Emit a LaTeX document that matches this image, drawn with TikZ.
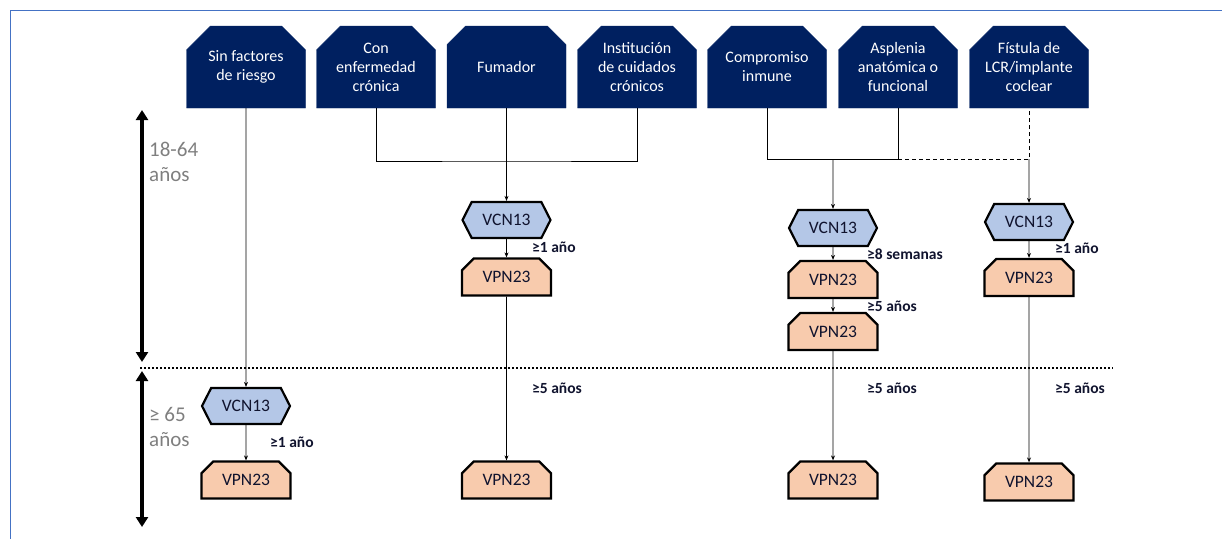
\documentclass[tikz,border=0pt]{standalone}
\usepackage{fontspec}
\setmainfont{Carlito}
\usetikzlibrary{shapes.misc,shapes.symbols,arrows.meta,positioning,calc}
\definecolor{navybox}{HTML}{002060}
\definecolor{vcnblue}{HTML}{B4C7E7}
\definecolor{vpnpeach}{HTML}{F8CBAD}
\definecolor{frameblue}{HTML}{4472C4}
\definecolor{agegray}{HTML}{7F7F7F}
\definecolor{inkdark}{HTML}{10132E}

\begin{document}
\begin{tikzpicture}[x=1pt,y=-1pt,
    group/.style={chamfered rectangle,chamfered rectangle corners={north west,north east},
      chamfered rectangle xsep=12pt,chamfered rectangle ysep=12pt,fill=navybox,draw=navybox,
      text=white,minimum width=119pt,minimum height=82pt,inner sep=1pt,align=center,
      font=\fontsize{16}{19}\selectfont},
    vcn/.style={signal,signal to=west and east,signal pointer angle=126,fill=vcnblue,
      draw=black,line width=2.2pt,minimum width=88pt,minimum height=36pt,inner sep=0pt,
      text=inkdark,font=\fontsize{17.5}{20}\selectfont},
    vpn/.style={chamfered rectangle,chamfered rectangle corners={north west,north east},
      chamfered rectangle xsep=6pt,chamfered rectangle ysep=6pt,fill=vpnpeach,draw=black,
      line width=2.2pt,minimum width=89pt,minimum height=37pt,inner sep=0pt,
      text=inkdark,font=\fontsize{17.5}{20}\selectfont},
    gap/.style={anchor=west,inner sep=0pt,text=inkdark,font=\bfseries\fontsize{15.5}{18}\selectfont},
    age/.style={anchor=west,align=left,text=agegray,inner sep=0pt,font=\fontsize{21}{25}\selectfont},
    link/.style={line width=0.9pt},
    flow/.style={link,-{Stealth[length=5pt,width=4pt]}},
    agearrow/.style={{Triangle[length=10pt,width=12pt]}-{Triangle[length=10pt,width=12pt]},line width=4pt}]
    \path[use as bounding box,clip] (0,0) rectangle (1222,538);
    \draw[frameblue,line width=1.5pt] (10.5,10.5) rectangle (1260,580);

    % Risk groups
    \node[group] (h1) at (246,67) {Sin factores\\de riesgo};
    \node[group] (h2) at (376,67) {Con\\enfermedad\\crónica};
    \node[group] (h3) at (506.5,67) {Fumador};
    \node[group] (h4) at (637,67) {Institución\\de cuidados\\crónicos};
    \node[group] (h5) at (767,67) {Compromiso\\inmune};
    \node[group] (h6) at (898,67) {Asplenia\\anatómica o\\funcional};
    \node[group] (h7) at (1029,67) {Fístula de\\LCR/implante\\coclear};

    % Junctions
    \coordinate (j3) at (506.5,161);
    \coordinate (j5) at (833,159);
    \coordinate (j6) at (898,159);
    \coordinate (j7) at (1029,159);

    % Vaccines
    \node[vcn] (a1) at (246,406) {VCN13};
    \node[vpn] (b1) at (246,480) {VPN23};
    \node[vcn] (v3) at (506.5,220) {VCN13};
    \node[vpn] (p3a) at (506.5,277) {VPN23};
    \node[vpn] (p3b) at (506.5,480) {VPN23};
    \node[vcn] (v5) at (833,228) {VCN13};
    \node[vpn] (p5a) at (833,279.5) {VPN23};
    \node[vpn] (p5b) at (833,331.5) {VPN23};
    \node[vpn] (p5c) at (833,480) {VPN23};
    \node[vcn] (v7) at (1029,222) {VCN13};
    \node[vpn] (p7a) at (1029,277.5) {VPN23};
    \node[vpn] (p7b) at (1029,482) {VPN23};

    % Intervals
    \node[gap] (g1) at (270,442) {≥1 año};
    \node[gap] (g3a) at (532,247) {≥1 año};
    \node[gap] (g3b) at (532,388) {≥5 años};
    \node[gap] (g5a) at (867,254) {≥8 semanas};
    \node[gap] (g5b) at (867,306) {≥5 años};
    \node[gap] (g5c) at (867,388) {≥5 años};
    \node[gap] (g7a) at (1055,248) {≥1 año};
    \node[gap] (g7b) at (1055,388) {≥5 años};

    % Connectors
    \draw[flow] (h1) -- (a1);
    \draw[flow] (a1) -- (b1);
    \draw[link] (h2.south) |- (j3) -| (h4.south);
    \draw[flow] (h3) -- (v3);
    \draw[flow] (v3) -- (p3a);
    \draw[flow] (p3a) -- (p3b);
    \draw[link] (h5.south) |- (j6) -- (h6.south);
    \draw[link,dash pattern=on 4pt off 3pt] (j6) -| (h7.south);
    \draw[flow] (j5) -- (v5);
    \draw[flow] (v5) -- (p5a);
    \draw[flow] (p5a) -- (p5b);
    \draw[flow] (p5b) -- (p5c);
    \draw[flow] (j7) -- (v7);
    \draw[flow] (v7) -- (p7a);
    \draw[flow] (p7a) -- (p7b);

    % Age bands
    \coordinate (ua) at (142,110);
    \coordinate (ub) at (142,362);
    \coordinate (la) at (142,371);
    \coordinate (lb) at (142,527);
    \coordinate (dl) at (140,368);
    \coordinate (dr) at (1113,368);
    \draw[agearrow] (ua) -- (ub);
    \draw[agearrow] (la) -- (lb);
    \draw[line width=2pt,dash pattern=on 2pt off 2pt] (dl) -- (dr);
    \node[age] (young) at (149,162) {18-64\\años};
    \node[age] (old) at (149,427) {≥ 65\\años};
\end{tikzpicture}
\end{document}
